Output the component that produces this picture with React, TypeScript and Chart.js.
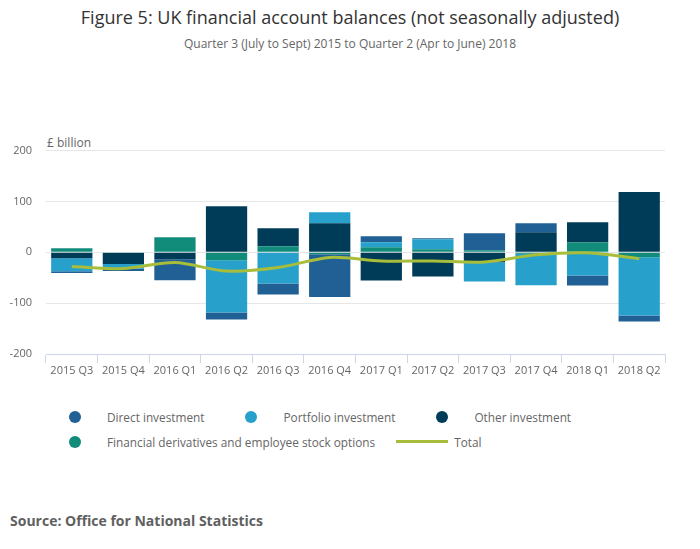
import { useEffect, useRef } from "react"
import { Chart, registerables } from "chart.js"

Chart.register(...registerables)

// Quarters on the x axis
const quarters = [
  "2015 Q3", "2015 Q4", "2016 Q1", "2016 Q2", "2016 Q3", "2016 Q4",
  "2017 Q1", "2017 Q2", "2017 Q3", "2017 Q4", "2018 Q1", "2018 Q2",
]

// £ billion
const directInvestment = [-3.3, -4.6, -41.4, -13.8, -21.7, -84.2, 11.8, 2, 33.6, 17.8, -19.7, -11.8]
const portfolioInvestment = [-25.7, -9.2, 0, -102.6, -61.2, 21.7, 9.9, 19.7, -37.5, -62, -45.4, -114.5]
const otherInvestment = [-11.8, -21.7, -13.8, 90.8, 35.5, 57.2, -55.3, -47.4, -19.7, 39.5, 39.5, 118.4]
const financialDerivatives = [7.9, -1.5, 29.6, -15.8, 11.8, -3.9, 9.9, 5.9, 3.9, -3, 19.7, -9.9]
const totalBalance = [-28, -32, -20, -37, -30, -10, -17, -17, -19, -5, -1, -12.5]

const yMin = -200
const yMax = 200
const yStep = 100

const COLORS = {
  direct: "#206095",
  portfolio: "#27a0cc",
  other: "#003c57",
  derivatives: "#118c7b",
  total: "#a8bd3a",
}

const legendItems = [
  { label: "Direct investment", color: COLORS.direct, kind: "dot" },
  { label: "Portfolio investment", color: COLORS.portfolio, kind: "dot" },
  { label: "Other investment", color: COLORS.other, kind: "dot" },
  { label: "Financial derivatives and employee stock options", color: COLORS.derivatives, kind: "dot" },
  { label: "Total", color: COLORS.total, kind: "line" },
]

const FONT = '"Open Sans", sans-serif'

function FinancialAccountChart() {
  const chartRef = useRef<HTMLCanvasElement>(null)
  const chartInstance = useRef<Chart | null>(null)

  useEffect(() => {
    if (!chartRef.current) return
    if (chartInstance.current) chartInstance.current.destroy()

    const ctx = chartRef.current.getContext("2d")
    if (!ctx) return

    const bar = (label: string, data: number[], color: string, order: number) => ({
      type: "bar" as const,
      label,
      data,
      backgroundColor: color,
      borderWidth: 0,
      stack: "balances",
      order, // lower order sits nearer zero in the stack
      barPercentage: 0.8,
      categoryPercentage: 1,
    })

    chartInstance.current = new Chart(ctx, {
      type: "bar",
      data: {
        labels: quarters,
        datasets: [
          bar("Direct investment", directInvestment, COLORS.direct, 4),
          bar("Portfolio investment", portfolioInvestment, COLORS.portfolio, 3),
          bar("Other investment", otherInvestment, COLORS.other, 2),
          bar("Financial derivatives and employee stock options", financialDerivatives, COLORS.derivatives, 1),
          {
            type: "line" as const,
            label: "Total",
            data: totalBalance,
            borderColor: COLORS.total,
            backgroundColor: COLORS.total,
            borderWidth: 3,
            pointRadius: 0,
            tension: 0.3,
            stack: "total",
            order: 0,
          } as any,
        ],
      },
      options: {
        animation: false,
        responsive: true,
        maintainAspectRatio: false,
        layout: { padding: { top: 20, left: 8, right: 35, bottom: 0 } },
        plugins: {
          legend: { display: false },
          tooltip: { enabled: false },
        },
        scales: {
          x: {
            stacked: true,
            offset: true,
            grid: {
              display: true,
              offset: true,
              drawOnChartArea: false,
              drawTicks: true,
              tickLength: 9,
              color: "#ccd6eb",
            },
            border: { display: true, color: "#ccd6eb", width: 1 },
            ticks: {
              color: "#666666",
              font: { family: FONT, size: 11 },
              padding: 1,
              maxRotation: 0,
              autoSkip: false,
            },
            afterFit: (scale) => {
              scale.height = 38
            },
          },
          y: {
            stacked: true,
            min: yMin,
            max: yMax,
            ticks: {
              stepSize: yStep,
              color: "#666666",
              font: { family: FONT, size: 11 },
              padding: 14,
            },
            grid: { color: "#e6e6e6", drawTicks: false },
            border: { display: false },
            afterFit: (scale) => {
              scale.width = 38
            },
          },
        },
      },
    })

    return () => {
      if (chartInstance.current) {
        chartInstance.current.destroy()
        chartInstance.current = null
      }
    }
  }, [])

  return (
    <div style={{ position: "absolute", left: 0, top: 130, width: 700, height: 262 }}>
      <canvas ref={chartRef} />
    </div>
  )
}

function Legend() {
  const rows = [legendItems.slice(0, 3), legendItems.slice(3)]
  return (
    <div style={{ position: "absolute", left: 49, top: 404 }}>
      {rows.map((row, r) => (
        <div key={r} style={{ display: "flex", alignItems: "center", height: 25 }}>
          {row.map((item) => (
            <div key={item.label} style={{ display: "flex", alignItems: "center", marginRight: 21 }}>
              <div style={{ width: 52, display: "flex", justifyContent: "center", alignItems: "center" }}>
                {item.kind === "dot" ? (
                  <div style={{ width: 12, height: 12, borderRadius: 6, background: item.color }} />
                ) : (
                  <div style={{ width: 52, height: 3, background: item.color }} />
                )}
              </div>
              <span style={{ marginLeft: 6, fontSize: 11.8, color: "#666666", whiteSpace: "nowrap" }}>
                {item.label}
              </span>
            </div>
          ))}
        </div>
      ))}
    </div>
  )
}

export default function App() {
  return (
    <div
      style={{
        position: "absolute",
        left: 0,
        top: 0,
        width: 700,
        height: 549,
        background: "#ffffff",
        fontFamily: FONT,
        overflow: "hidden",
      }}
    >
      <div
        style={{
          position: "absolute",
          top: 5,
          width: "100%",
          textAlign: "center",
          fontSize: 18,
          lineHeight: "24px",
          color: "#333333",
        }}
      >
        Figure 5: UK financial account balances (not seasonally adjusted)
      </div>
      <div
        style={{
          position: "absolute",
          top: 36,
          width: "100%",
          textAlign: "center",
          fontSize: 12,
          lineHeight: "16px",
          color: "#666666",
        }}
      >
        Quarter 3 (July to Sept) 2015 to Quarter 2 (Apr to June) 2018
      </div>
      <div style={{ position: "absolute", left: 47, top: 135, fontSize: 12, lineHeight: "16px", color: "#666666" }}>
        £ billion
      </div>
      <FinancialAccountChart />
      <Legend />
      <div
        style={{
          position: "absolute",
          left: 10,
          top: 511,
          fontSize: 14,
          lineHeight: "20px",
          fontWeight: "bold",
          color: "#606060",
        }}
      >
        Source: Office for National Statistics
      </div>
    </div>
  )
}
